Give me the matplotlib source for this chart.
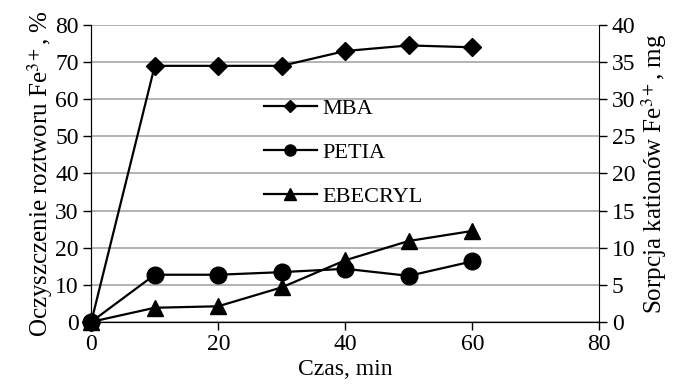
import matplotlib
matplotlib.use('Agg')
import matplotlib.pyplot as plt
from matplotlib.lines import Line2D

plt.rcParams['font.family'] = ['Liberation Serif', 'DejaVu Serif']
plt.rcParams['mathtext.fontset'] = 'stix'

# dane
czas = [0, 10, 20, 30, 40, 50, 60]
mba = [0, 69, 69, 69, 73, 74.5, 74]
petia = [0, 12.7, 12.7, 13.4, 14.3, 12.4, 16.3]
ebecryl = [0, 3.8, 4.2, 9.3, 16.6, 21.8, 24.5]

fig = plt.figure(figsize=(6.81, 3.85), dpi=100)
ax = fig.add_axes([0.134, 0.164, 0.746, 0.771])

ax.plot(czas, mba, color='black', lw=1.6, marker='D', ms=9, zorder=3, clip_on=False)
ax.plot(czas, ebecryl, color='black', lw=1.6, marker='^', ms=11, zorder=3, clip_on=False)
ax.plot(czas, petia, color='black', lw=1.6, marker='o', ms=12, zorder=3, clip_on=False)

ax.set_xlim(0, 80)
ax.set_ylim(0, 80)
ax.set_xticks([0, 20, 40, 60, 80])
ax.set_yticks(range(0, 81, 10))
ax.grid(axis='y', color='#a6a6a6', lw=1.2)
ax.set_axisbelow(True)
ax.spines['top'].set_visible(False)
ax.spines['right'].set_visible(False)
ax.tick_params(labelsize=17, direction='out', length=6, width=1, pad=3)
ax.set_xlabel('Czas, min', fontsize=17)
ax.xaxis.set_label_coords(0.5, -0.125)
ax.set_ylabel('Oczyszczenie roztworu Fe$^{3+}$, %', fontsize=18, labelpad=0)

ax2 = ax.twinx()
ax2.set_ylim(0, 40)
ax2.set_yticks(range(0, 41, 5))
ax2.spines['top'].set_visible(False)
ax2.tick_params(labelsize=17, direction='out', length=6, width=1, pad=3)
ax2.set_ylabel('Sorpcja kationów Fe$^{3+}$, mg', fontsize=18, labelpad=3)

handles = [
    Line2D([], [], color='black', lw=1.6, marker='D', ms=6),
    Line2D([], [], color='black', lw=1.6, marker='o', ms=8),
    Line2D([], [], color='black', lw=1.6, marker='^', ms=8),
]
leg = ax.legend(handles, ['MBA', 'PETIA', 'EBECRYL'], loc='center left',
                bbox_to_anchor=(0.3, 0.57), frameon=False, fontsize=16,
                handlelength=2.4, labelspacing=1.05, handletextpad=0.25)

fig.savefig('out.png', dpi=100)
